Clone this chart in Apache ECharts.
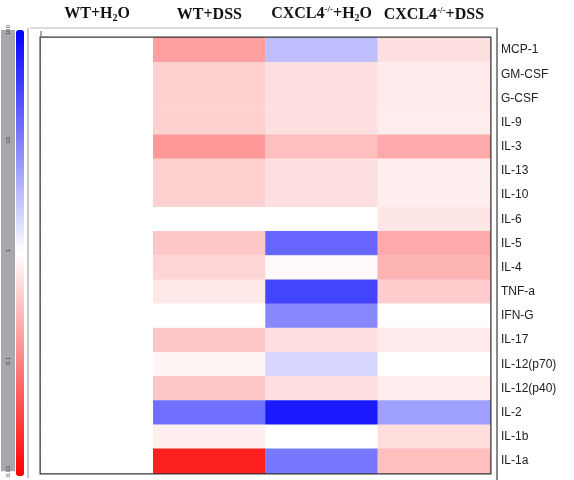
<!DOCTYPE html>
<html><head><meta charset="utf-8">
<script src="https://cdn.jsdelivr.net/npm/echarts@6/dist/echarts.min.js"></script>
<style>html,body{margin:0;padding:0;background:#fff}#c{width:574px;height:480px}</style>
</head><body><div id="c"></div>
<script>
const groups = ['WT+H{sub|2}O', 'WT+DSS', 'CXCL4{sup|-/-}+H{sub|2}O', 'CXCL4{sup|-/-}+DSS'];
const cytokines = ['MCP-1','GM-CSF','G-CSF','IL-9','IL-3','IL-13','IL-10','IL-6','IL-5','IL-4','TNF-a','IFN-G','IL-17','IL-12(p70)','IL-12(p40)','IL-2','IL-1b','IL-1a'];
// log10 fold change (blue = up, red = down)
const wtH2O   = [0,0,0,0,0,0,0,0,0,0,0,0,0,0,0,0,0,0];
const wtDSS   = [-0.75,-0.37,-0.37,-0.37,-0.8,-0.37,-0.37,0,-0.43,-0.33,-0.18,0,-0.43,-0.08,-0.43,1.12,-0.13,-1.75];
const koH2O   = [0.5,-0.24,-0.24,-0.24,-0.5,-0.24,-0.24,0,1.2,-0.05,1.47,0.93,-0.24,0.31,-0.24,1.8,0,1.06];
const koDSS   = [-0.24,-0.16,-0.16,-0.14,-0.67,-0.13,-0.13,-0.2,-0.67,-0.59,-0.39,0,-0.16,0,-0.15,0.75,-0.26,-0.5];
const scaleTicks = [0.01, 0.1, 1, 10, 100];

const cols = [wtH2O, wtDSS, koH2O, koDSS];
const data = [];
cols.forEach((arr, ci) => arr.forEach((v, ri) => data.push([ci, ri, v])));

const chart = echarts.init(document.getElementById('c'), null, {renderer: 'canvas'});
chart.setOption({
  animation: false,
  grid: [
    {left: 41, top: 38, width: 449, height: 435, show: true, borderColor: '#333', borderWidth: 3, backgroundColor: '#fff'},
    {left: 1, top: 30, width: 14, height: 446, show: true, borderWidth: 0, backgroundColor: '#a7a7ad'}
  ],
  xAxis: [
    {type: 'category', data: groups, position: 'top', gridIndex: 0,
     axisLine: {show: false}, axisTick: {show: false}, splitLine: {show: false},
     axisLabel: {margin: 15, interval: 0, fontFamily: 'Liberation Serif', fontWeight: 'bold', fontSize: 16, color: '#111',
       rich: {
         sub: {fontFamily: 'Liberation Serif', fontWeight: 'bold', fontSize: 10, verticalAlign: 'bottom', padding: [8,0,0,0], color: '#111'},
         sup: {fontFamily: 'Liberation Serif', fontWeight: 'bold', fontSize: 9, verticalAlign: 'top', padding: [0,0,8,0], color: '#111'}
       }}},
    {type: 'value', gridIndex: 1, show: false, min: 0, max: 1}
  ],
  yAxis: [
    {type: 'category', data: cytokines, inverse: true, position: 'right', gridIndex: 0, offset: 7,
     axisLine: {show: true, lineStyle: {color: '#888', width: 2}}, axisTick: {show: false}, splitLine: {show: false},
     axisLabel: {margin: 4, fontFamily: 'Liberation Sans', fontSize: 12, color: '#222', padding: [10,0,0,0]}},
    {type: 'log', logBase: 10, min: scaleTicks[0], max: scaleTicks[scaleTicks.length-1], gridIndex: 1, position: 'left',
     axisLine: {show: false}, axisTick: {show: false}, splitLine: {show: false},
     axisLabel: {inside: true, rotate: 90, margin: 4, fontSize: 6, color: '#444',
       formatter: v => String(+v.toPrecision(3))}}
  ],
  visualMap: {
    type: 'continuous', min: -2, max: 2, seriesIndex: 0, calculable: false, orient: 'vertical',
    left: 16, top: 30, padding: 0, itemWidth: 8, itemHeight: 446, text: null, showLabel: false,
    inRange: {color: ['#ff0000', '#ffffff', '#0000ff']}
  },
  graphic: [
    {type: 'line', shape: {x1: 30, y1: 28, x2: 498, y2: 28}, style: {stroke: '#cfcfcf', lineWidth: 1.5}},
    {type: 'line', shape: {x1: 28, y1: 28, x2: 28, y2: 478}, style: {stroke: '#c8c8c8', lineWidth: 2}},
    {type: 'line', shape: {x1: 41, y1: 31, x2: 41, y2: 38}, style: {stroke: '#555', lineWidth: 1}},
    {type: 'line', shape: {x1: 497, y1: 28, x2: 497, y2: 480}, style: {stroke: '#888', lineWidth: 2}}
  ],
  series: [{
    type: 'heatmap', xAxisIndex: 0, yAxisIndex: 0, data: data,
    itemStyle: {borderWidth: 0}, emphasis: {disabled: true}
  }]
});
</script></body></html>
